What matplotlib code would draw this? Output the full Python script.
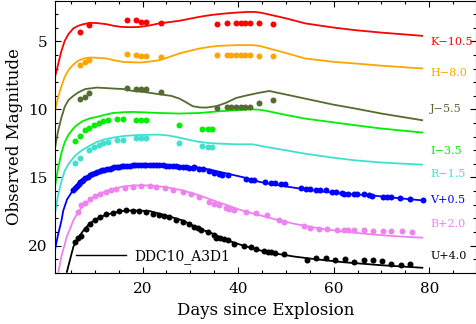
import matplotlib
matplotlib.use("Agg")
import matplotlib.pyplot as plt
from matplotlib.lines import Line2D
from matplotlib.ticker import MultipleLocator

plt.rcParams['font.family'] = ['DejaVu Serif']

# ---------------- data: observed photometry ----------------
K_days = [6.9, 8.8, 16.7, 18.7, 19.7, 20.8, 23.75, 35.5, 37.6, 39.6, 40.6, 41.5, 42.4, 44.4, 47.4]
K_mag = [4.29, 3.80, 3.43, 3.43, 3.56, 3.56, 3.63, 3.73, 3.63, 3.63, 3.63, 3.63, 3.63, 3.63, 3.73]

H_days = [6.9, 7.9, 8.8, 16.7, 18.7, 19.7, 20.8, 23.75, 35.5, 37.6, 38.6, 39.6, 40.6, 41.5, 42.4, 44.4, 47.4]
H_mag = [6.70, 6.50, 6.38, 5.93, 6.00, 6.10, 6.10, 6.15, 5.96, 5.96, 6.00, 6.00, 6.00, 6.00, 6.00, 6.05, 6.10]

J_days = [6.9, 7.9, 8.8, 16.7, 18.7, 19.7, 20.8, 23.75, 35.5, 37.6, 38.6, 39.6, 40.6, 41.5, 42.4, 44.4, 47.4]
J_mag = [9.26, 9.08, 8.76, 8.39, 8.46, 8.46, 8.50, 8.70, 9.86, 9.83, 9.83, 9.83, 9.83, 9.82, 9.80, 9.50, 9.32]

I_days = [5.8, 6.9, 7.9, 8.8, 9.85, 10.8, 11.8, 12.8, 14.6, 15.8, 18.7, 19.7, 20.8, 27.7, 32.5, 33.6, 34.6]
I_mag = [12.34, 11.95, 11.53, 11.36, 11.11, 10.99, 10.87, 10.74, 10.67, 10.67, 10.74, 10.77, 10.77, 11.16, 11.41, 11.41, 11.41]

R_days = [5.8, 6.9, 8.8, 9.85, 10.8, 11.8, 12.8, 14.6, 15.8, 18.7, 19.7, 20.8, 27.7, 32.5, 33.6, 34.6]
R_mag = [13.94, 13.54, 13.00, 12.76, 12.64, 12.50, 12.39, 12.27, 12.22, 12.10, 12.10, 12.10, 12.44, 12.69, 12.76, 12.76]

V_days = [5.5, 5.8, 6.2, 6.6, 6.9, 7.3, 7.6, 8.0, 8.5, 9.0, 9.5, 10.0, 10.5, 11.0, 11.5, 12.0, 12.5,
          13.1, 13.6, 14.1, 14.6, 15.1, 15.6, 16.2, 16.8, 17.3, 17.9, 18.5, 19.0, 19.6, 20.2, 20.8,
          21.5, 22.2, 22.8, 23.5, 24.2, 24.9, 25.6, 26.3, 27.0, 27.7, 28.4, 29.1, 29.8, 30.5, 30.8,
          31.9, 32.6, 34.0, 35.0, 36.0, 36.7, 37.8, 41.6, 42.6, 43.3, 45.7, 46.8, 47.8, 48.9, 49.9,
          53.1, 54.1, 55.1, 56.2, 57.2, 58.3, 59.7, 60.4, 61.8, 62.1, 63.1, 64.2, 64.9, 66.3, 67.3,
          68.0, 70.4, 71.1, 72.1, 73.8, 76.0, 78.75]
V_mag = [15.95, 15.80, 15.60, 15.45, 15.34, 15.25, 15.16, 15.05, 14.95, 14.85, 14.78, 14.68, 14.60,
         14.53, 14.48, 14.42, 14.38, 14.35, 14.30, 14.26, 14.23, 14.22, 14.18, 14.15, 14.13, 14.12,
         14.10, 14.08, 14.08, 14.07, 14.06, 14.05, 14.06, 14.07, 14.07, 14.08, 14.10, 14.12, 14.13,
         14.15, 14.17, 14.20, 14.22, 14.25, 14.28, 14.32, 14.23, 14.35, 14.35, 14.53, 14.68, 14.77,
         14.85, 14.85, 15.09, 15.16, 15.16, 15.34, 15.38, 15.41, 15.46, 15.46, 15.78, 15.82, 15.88,
         15.90, 15.90, 15.95, 16.08, 16.08, 16.12, 16.19, 16.19, 16.19, 16.24, 16.24, 16.32, 16.37,
         16.44, 16.44, 16.44, 16.51, 16.56, 16.66]

B_days = [6.5, 7.2, 7.9, 8.9, 10.0, 11.0, 12.3, 13.4, 14.5, 16.3, 18.0, 19.7, 21.5, 22.8, 24.6,
          26.3, 28.4, 30.1, 31.9, 34.0, 35.0, 36.0, 37.4, 38.1, 39.2, 41.6, 43.7, 46.1, 48.5, 49.6,
          53.8, 55.1, 56.9, 58.6, 60.7, 62.1, 63.1, 64.2, 66.3, 68.3, 70.4, 72.1, 74.2, 76.3]
B_mag = [17.55, 17.05, 16.88, 16.56, 16.39, 16.19, 16.07, 15.95, 15.83, 15.75, 15.71, 15.66, 15.66,
         15.71, 15.78, 15.95, 16.07, 16.19, 16.42, 16.81, 16.93, 17.05, 17.22, 17.30, 17.42, 17.55,
         17.62, 17.79, 18.16, 18.28, 18.60, 18.70, 18.77, 18.80, 18.87, 18.84, 18.89, 18.89, 18.89,
         18.90, 18.94, 18.95, 18.96, 19.02]

U_days = [5.8, 6.5, 7.2, 8.2, 8.9, 10.0, 11.0, 12.3, 13.7, 15.1, 16.5, 18.0, 19.3, 20.7, 22.1, 23.5,
          24.5, 25.6, 27.0, 28.4, 29.8, 30.8, 31.5, 32.2, 33.6, 35.0, 35.3, 36.2, 37.1, 37.8, 39.2,
          41.3, 42.6, 43.7, 45.4, 46.3, 46.8, 47.8, 49.6, 54.4, 56.3, 58.4, 60.3, 62.3, 64.2, 66.25,
          68.2, 70.2, 72.1, 74.1, 76.0]
U_mag = [19.76, 19.44, 19.27, 18.79, 18.42, 18.13, 17.92, 17.72, 17.62, 17.50, 17.42, 17.47, 17.50,
         17.55, 17.67, 17.79, 17.85, 17.92, 18.16, 18.28, 18.40, 18.65, 18.70, 18.89, 19.01, 19.26,
         19.43, 19.45, 19.50, 19.63, 19.87, 20.00, 20.12, 20.24, 20.37, 20.45, 20.49, 20.56, 20.61,
         21.03, 20.91, 20.94, 21.03, 20.98, 21.22, 21.10, 21.10, 21.15, 21.35, 21.40, 21.35]

# ---------------- data: model light curves (DDC10_A3D1) ----------------
K_mod_days = [1.7, 2.3, 3.0, 3.7, 4.5, 5.5, 6.5, 7.6, 9.0, 10.5, 12.4, 14.0, 15.5, 17.5, 19.4, 21.5,
              23.5, 25.5, 27.7, 30.0, 31.9, 34.0, 36.0, 38.0, 40.0, 42.0, 43.5, 45.0, 46.5, 50.0,
              54.0, 60.0, 64.5, 70.0, 78.7]
K_mod = [7.56, 6.70, 5.70, 4.95, 4.45, 4.04, 3.85, 3.73, 3.63, 3.65, 3.73, 3.85, 3.93, 3.95, 3.93,
         3.82, 3.67, 3.58, 3.48, 3.32, 3.19, 3.07, 2.99, 2.92, 2.87, 2.83, 2.83, 2.90, 3.02, 3.30,
         3.67, 3.98, 4.17, 4.35, 4.59]

H_mod_days = [1.7, 2.3, 3.0, 3.7, 4.5, 5.5, 6.5, 7.7, 9.0, 10.5, 12.4, 14.0, 15.9, 19.4, 21.5, 23.5,
              25.5, 27.7, 30.0, 31.9, 34.0, 36.0, 39.6, 43.0, 44.5, 46.0, 50.0, 54.0, 60.0, 64.5,
              70.0, 78.7]
H_mod = [10.06, 9.10, 8.30, 7.60, 7.10, 6.70, 6.42, 6.25, 6.18, 6.20, 6.25, 6.38, 6.50, 6.55, 6.48,
         6.38, 6.15, 5.88, 5.68, 5.52, 5.40, 5.32, 5.27, 5.27, 5.33, 5.47, 5.85, 6.25, 6.50, 6.62,
         6.78, 6.99]

J_mod_days = [1.7, 2.3, 3.0, 3.7, 4.5, 5.5, 6.5, 8.0, 10.4, 12.0, 13.8, 16.0, 18.0, 20.0, 23.5, 26.0,
              27.7, 29.0, 30.5, 32.0, 33.3, 35.5, 37.4, 39.6, 42.0, 44.0, 46.5, 50.0, 54.0, 60.0,
              64.5, 70.0, 78.7]
J_mod = [12.76, 11.60, 10.60, 9.80, 9.30, 9.00, 8.75, 8.50, 8.39, 8.42, 8.46, 8.50, 8.64, 8.70, 8.88,
         9.00, 9.20, 9.45, 9.76, 9.85, 9.86, 9.75, 9.52, 9.15, 8.95, 8.80, 8.64, 8.90, 9.20, 9.65,
         9.93, 10.30, 10.80]

I_mod_days = [1.7, 2.35, 3.0, 3.7, 4.5, 5.5, 6.2, 7.5, 9.0, 10.4, 12.0, 13.8, 16.0, 18.0, 21.0, 23.5,
              27.7, 31.9, 36.0, 39.6, 43.0, 44.5, 46.0, 50.0, 54.0, 60.0, 64.5, 70.0, 78.7]
I_mod = [15.58, 14.23, 13.20, 12.40, 11.85, 11.40, 11.16, 10.85, 10.65, 10.55, 10.40, 10.26, 10.20,
         10.18, 10.22, 10.26, 10.30, 10.26, 10.13, 10.06, 9.99, 10.02, 10.11, 10.40, 10.67, 10.95,
         11.16, 11.40, 11.70]

R_mod_days = [1.7, 2.3, 3.0, 3.7, 4.5, 5.5, 6.2, 7.5, 9.0, 10.4, 12.0, 13.8, 16.0, 18.0, 21.0, 23.5,
              25.5, 27.7, 30.0, 31.9, 34.0, 36.0, 39.6, 43.0, 46.0, 50.0, 54.0, 60.0, 64.5, 70.0,
              78.7]
R_mod = [17.55, 16.30, 15.30, 14.50, 14.00, 13.55, 13.30, 12.95, 12.65, 12.39, 12.20, 12.07, 11.95,
         11.90, 11.86, 11.85, 11.92, 12.07, 12.25, 12.39, 12.47, 12.51, 12.56, 12.56, 12.76, 13.00,
         13.25, 13.55, 13.74, 13.90, 14.06]

V_mod_days = [1.7, 2.3, 3.0, 3.4, 4.2, 5.5, 6.5, 7.6, 9.0, 11.0, 12.8, 14.5, 16.0, 18.0, 21.5, 24.9,
              28.4, 31.9, 34.5, 37.8, 41.0, 44.7, 48.0, 51.7, 55.0, 58.6, 62.1, 65.0, 68.0, 73.0,
              78.75]
V_mod = [20.24, 19.20, 18.20, 17.42, 16.60, 15.90, 15.45, 15.09, 14.80, 14.48, 14.30, 14.18, 14.10,
         14.06, 14.04, 14.06, 14.16, 14.28, 14.45, 14.72, 14.98, 15.34, 15.55, 15.75, 15.92, 16.07,
         16.19, 16.25, 16.32, 16.50, 16.69]

B_mod_days = [2.35, 3.0, 4.1, 5.5, 6.5, 7.6, 9.0, 11.0, 12.8, 14.5, 16.0, 18.0, 21.5, 24.9, 28.4,
              31.9, 34.5, 37.8, 41.0, 44.7, 48.0, 51.7, 55.0, 58.0, 62.0, 66.0, 70.0, 74.0, 78.75]
B_mod = [22.0, 20.8, 19.39, 18.16, 17.55, 17.05, 16.60, 16.19, 15.95, 15.78, 15.66, 15.58, 15.58,
         15.71, 15.95, 16.32, 16.65, 17.05, 17.45, 17.79, 18.10, 18.40, 18.62, 18.80, 18.97, 19.12,
         19.24, 19.34, 19.43]

U_mod_days = [4.1, 5.5, 6.5, 7.6, 9.0, 11.0, 12.8, 14.5, 16.0, 18.0, 21.5, 24.9, 28.4, 31.9, 34.5,
              37.8, 41.0, 44.7, 48.0, 51.7, 56.0, 62.1, 70.0, 78.75]
U_mod = [22.0, 20.10, 19.45, 18.90, 18.35, 17.92, 17.70, 17.55, 17.45, 17.42, 17.47, 17.79, 18.16,
         18.77, 19.10, 19.63, 20.00, 20.37, 20.60, 20.81, 21.00, 21.23, 21.45, 21.64]

band_labels = ["K\u221210.5", "H\u22128.0", "J\u22125.5", "I\u22123.5", "R\u22121.5", "V+0.5", "B+2.0", "U+4.0"]
label_mags = [5.05, 7.29, 9.98, 13.08, 14.72, 16.69, 18.40, 20.74]
label_day = 80.2
colors = ["#ff0000", "#ffa500", "#556b2f", "#00ee00", "#40e0d0", "#0000ff", "#ee82ee", "#000000"]
model_name = "DDC10_A3D1"

obs = [(K_days, K_mag), (H_days, H_mag), (J_days, J_mag), (I_days, I_mag),
       (R_days, R_mag), (V_days, V_mag), (B_days, B_mag), (U_days, U_mag)]
mods = [(K_mod_days, K_mod), (H_mod_days, H_mod), (J_mod_days, J_mod), (I_mod_days, I_mod),
        (R_mod_days, R_mod), (V_mod_days, V_mod), (B_mod_days, B_mod), (U_mod_days, U_mod)]

fig = plt.figure(figsize=(4.77, 3.24), dpi=100)
ax = fig.add_axes([0.1147, 0.1583, 0.8833, 0.8397])

for (md, mm), (od, om), c in zip(mods, obs, colors):
    ax.plot(md, mm, color=c, lw=1.3, solid_capstyle='butt', zorder=2)
    ax.plot(od, om, 'o', color=c, ms=4.3, mec='none', zorder=3)

for lab, m, c in zip(band_labels, label_mags, colors):
    ax.text(label_day, m, lab, color=c, fontsize=8, va='center', ha='left')

ax.set_xlim(1.6, 89.8)
ax.set_ylim(22.0, 2.0)
ax.xaxis.set_major_locator(MultipleLocator(20))
ax.xaxis.set_minor_locator(MultipleLocator(5))
ax.yaxis.set_major_locator(MultipleLocator(5))
ax.yaxis.set_minor_locator(MultipleLocator(1))
ax.tick_params(which='both', direction='in', top=True, right=True, width=0.8)
ax.tick_params(which='major', length=4.5, labelsize=11)
ax.tick_params(axis='x', which='major', pad=7)
ax.tick_params(axis='y', which='major', pad=5)
ax.tick_params(which='minor', length=2.5)
for s in ax.spines.values():
    s.set_linewidth(0.8)

ax.set_xlabel("Days since Explosion", fontsize=12, labelpad=4)
ax.set_ylabel("Observed Magnitude", fontsize=12, labelpad=4)

handle = Line2D([], [], color='black', lw=1.0)
ax.legend([handle], [model_name], loc='center left', bbox_to_anchor=(0.05, 0.059),
          frameon=False, fontsize=10, handlelength=3.6, handletextpad=0.6,
          borderpad=0, borderaxespad=0)

fig.savefig("out.png", dpi=100)
